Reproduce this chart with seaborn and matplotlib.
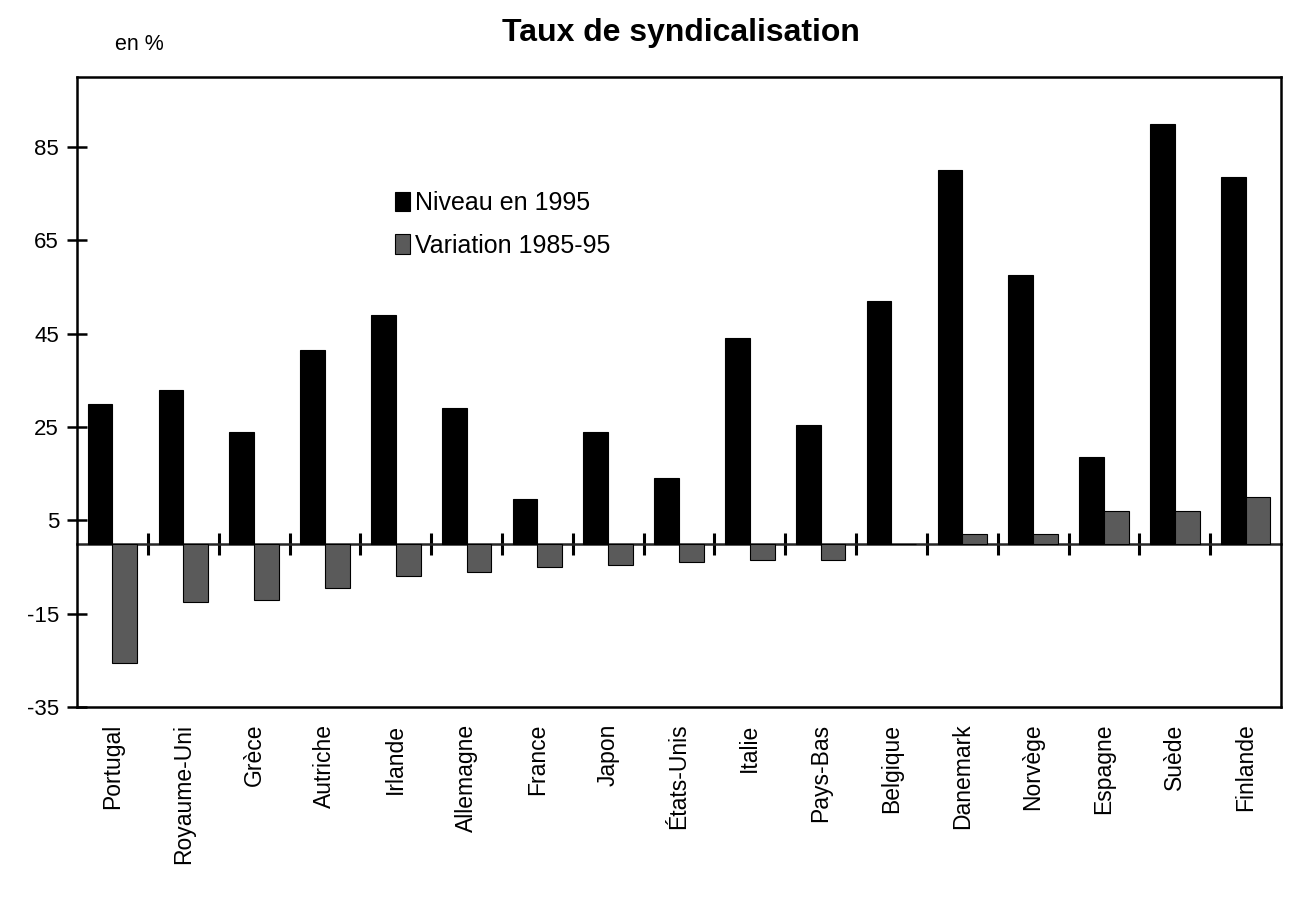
import numpy as np
import pandas as pd
import seaborn as sns
import matplotlib
matplotlib.use("Agg")
import matplotlib.pyplot as plt

# -------------------------------
# Data
# -------------------------------
countries = ["Portugal", "Royaume-Uni", "Grèce", "Autriche", "Irlande", "Allemagne",
             "France", "Japon", "États-Unis", "Italie", "Pays-Bas", "Belgique",
             "Danemark", "Norvège", "Espagne", "Suède", "Finlande"]
niveau_1995 = [30, 33, 24, 41.5, 49, 29, 9.5, 24, 14, 44, 25.5, 52, 80, 57.5, 18.5, 90, 78.5]
variation_85_95 = [-25.5, -12.5, -12, -9.5, -7, -6, -5, -4.5, -4, -3.5, -3.5, 0, 2, 2, 7, 7, 10]
series_names = ["Niveau en 1995", "Variation 1985-95"]
y_ticks = [-35, -15, 5, 25, 45, 65, 85]

df = pd.DataFrame({
    "pays": countries * 2,
    "serie": [series_names[0]] * len(countries) + [series_names[1]] * len(countries),
    "valeur": niveau_1995 + variation_85_95,
})

# -------------------------------
# Plot
# -------------------------------
sns.set_style("white")
plt.rcParams["font.family"] = ["Liberation Sans", "DejaVu Sans"]
plt.rcParams["axes.unicode_minus"] = False
plt.rcParams["text.color"] = "black"
plt.rcParams["xtick.color"] = "black"
plt.rcParams["ytick.color"] = "black"

fig = plt.figure(figsize=(12.93, 8.99), dpi=100)
ax = fig.add_axes([0.0596, 0.2136, 0.9311, 0.7007])

palette = {series_names[0]: "black", series_names[1]: "#5a5a5a"}
sns.barplot(data=df, x="pays", y="valeur", hue="serie", palette=palette,
            width=0.7, saturation=1, edgecolor="black", linewidth=0.8, ax=ax)

ymin, ymax = -35, 100
ax.set_ylim(ymin, ymax)
ax.set_xlim(-0.5, len(countries) - 0.5)
ax.set_yticks(y_ticks)
ax.set_xlabel("")
ax.set_ylabel("")

for side in ["left", "right", "top", "bottom"]:
    ax.spines[side].set_visible(True)
    ax.spines[side].set_color("black")
    ax.spines[side].set_linewidth(1.8)

ax.tick_params(axis="y", direction="inout", length=14, width=1.8, labelsize=16, pad=6, left=True)
ax.tick_params(axis="x", length=0, labelsize=16.5, pad=12)
plt.setp(ax.get_xticklabels(), rotation=90, ha="center", va="top")

# zero line with category separators
zero_frac = (0 - ymin) / (ymax - ymin)
ax2 = ax.secondary_xaxis(zero_frac)
ax2.set_xticks(np.arange(len(countries) - 1) + 0.5)
ax2.set_xticklabels([])
ax2.spines["bottom"].set_linewidth(1.8)
ax2.tick_params(direction="inout", length=16, width=2.2, color="black")

# legend
handles, labels = ax.get_legend_handles_labels()
ax.legend(handles, labels, loc="upper left", bbox_to_anchor=(0.245, 0.855), frameon=False,
          fontsize=18, handlelength=0.6, handleheight=0.8, handletextpad=0.2, labelspacing=0.75)

fig.text(0.527, 0.963, "Taux de syndicalisation", ha="center", va="center",
         fontsize=23, fontweight="bold")
fig.text(0.089, 0.951, "en %", ha="left", va="center", fontsize=15.5)

fig.savefig("out.png", dpi=100)
